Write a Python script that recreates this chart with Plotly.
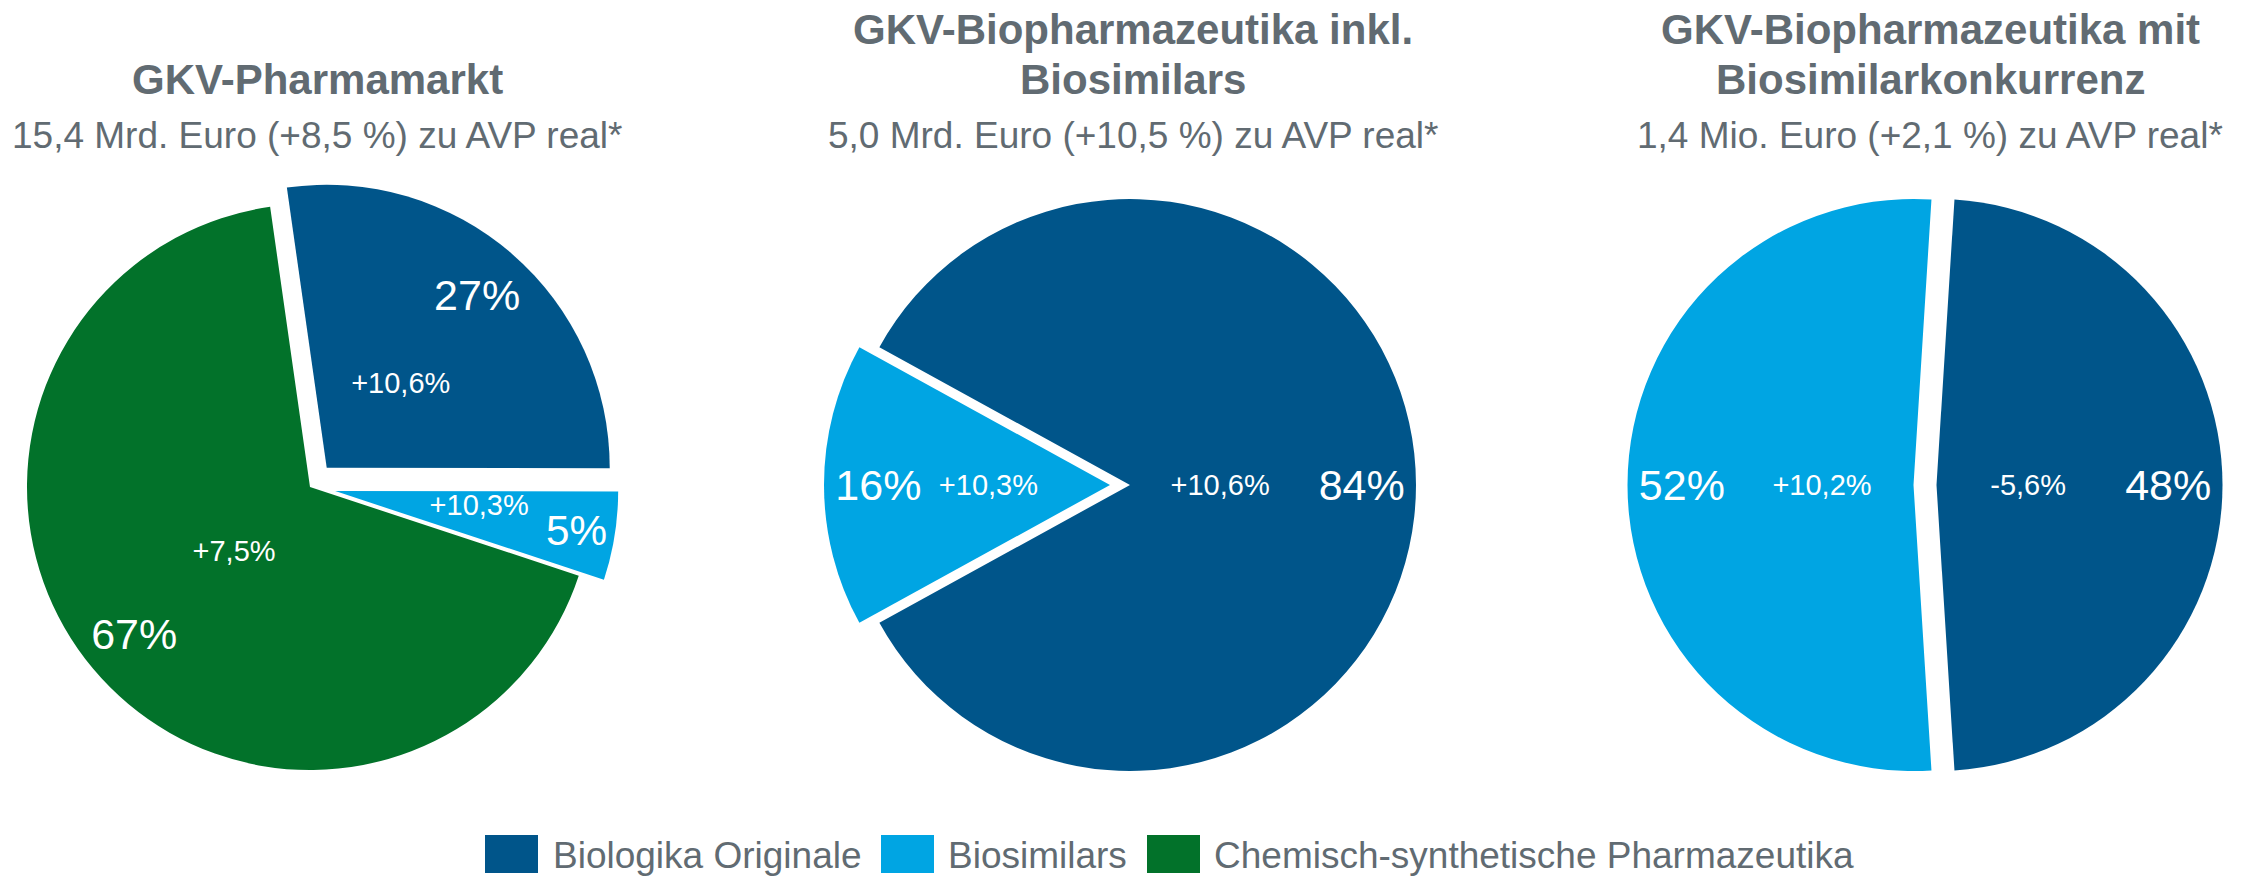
import plotly.graph_objects as go

W, H = 2244, 879

# ---------------- data ----------------
categories = ["Biologika Originale", "Biosimilars", "Chemisch-synthetische Pharmazeutika"]

titles = [["GKV-Pharmamarkt"],
          ["GKV-Biopharmazeutika inkl.", "Biosimilars"],
          ["GKV-Biopharmazeutika mit", "Biosimilarkonkurrenz"]]
subtitles = ["15,4 Mrd. Euro (+8,5 %) zu AVP real*",
             "5,0 Mrd. Euro (+10,5 %) zu AVP real*",
             "1,4 Mio. Euro (+2,1 %) zu AVP real*"]

pie1_labels = ["Biologika Originale", "Biosimilars", "Chemisch-synthetische Pharmazeutika"]
pie1_shares = [27, 5, 67]
pie1_growth = ["+10,6%", "+10,3%", "+7,5%"]

pie2_labels = ["Biologika Originale", "Biosimilars"]
pie2_shares = [84, 16]
pie2_growth = ["+10,6%", "+10,3%"]

pie3_labels = ["Biologika Originale", "Biosimilars"]
pie3_shares = [48, 52]
pie3_growth = ["-5,6%", "+10,2%"]

# ---------------- style ----------------
COLORS = {"Biologika Originale": "#00558A",
          "Biosimilars": "#00A5E3",
          "Chemisch-synthetische Pharmazeutika": "#02722A"}
GRAY = "#616B72"
FONT = "Liberation Sans, Arial, sans-serif"
CLEAR = "rgba(0,0,0,0)"

pies = [
    dict(labels=pie1_labels, shares=pie1_shares, growth=pie1_growth,
         cx=310, cy=487, r=283, pull_px=[25.5, 25.5, 0], rot=-8.1,
         f_small=0.70, small_pos=["inside", "outside", "inside"], r_out=87.5,
         tx=317, title_y=[79], sub_y=135),
    dict(labels=pie2_labels, shares=pie2_shares, growth=pie2_growth,
         cx=1130, cy=485, r=286, pull_px=[0, 20], rot=-61.2,
         f_small=0.63, small_pos=["inside", "inside"], r_out=None,
         tx=1133, title_y=[29, 79], sub_y=135),
    dict(labels=pie3_labels, shares=pie3_shares, growth=pie3_growth,
         cx=1925, cy=485, r=286, pull_px=[11.5, 11.5], rot=3.6,
         f_small=0.64, small_pos=["inside", "inside"], r_out=None,
         tx=1930, title_y=[29, 79], sub_y=135),
]


def domain(cx, cy, r, pulls):
    h = r * (1 + max(pulls))
    x0, x1 = max(0.0, (cx - h) / W), min(1.0, (cx + h) / W)
    y0, y1 = max(0.0, 1 - (cy + h) / H), min(1.0, 1 - (cy - h) / H)
    return dict(x=[x0, x1], y=[y0, y1])


common = dict(sort=False, direction="clockwise", showlegend=False)

fig = go.Figure()
for p in pies:
    n = len(p["labels"])
    # visible slices
    pulls = [px / p["r"] for px in p["pull_px"]]
    fig.add_trace(go.Pie(
        labels=p["labels"], values=p["shares"], rotation=p["rot"],
        pull=pulls, domain=domain(p["cx"], p["cy"], p["r"], pulls),
        marker=dict(colors=[COLORS[l] for l in p["labels"]], line=dict(width=0)),
        textinfo="none", hoverinfo="label+percent", **common))
    # share labels (outer ring)
    fig.add_trace(go.Pie(
        labels=p["labels"], values=p["shares"], rotation=p["rot"],
        pull=pulls, domain=domain(p["cx"], p["cy"], p["r"], pulls), hole=0.62,
        marker=dict(colors=[CLEAR] * n, line=dict(width=0)),
        text=[f"{v}%" for v in p["shares"]], textinfo="text",
        textposition="inside", insidetextorientation="horizontal",
        textfont=dict(size=43, color="white", family=FONT),
        hoverinfo="skip", **common))
    # growth labels (inner)
    rc = p["r"] * p["f_small"]
    pulls_c = [px / rc for px in p["pull_px"]]
    fig.add_trace(go.Pie(
        labels=p["labels"], values=p["shares"], rotation=p["rot"],
        pull=pulls_c, domain=domain(p["cx"], p["cy"], rc, pulls_c),
        marker=dict(colors=[CLEAR] * n, line=dict(width=0)),
        text=[g if pos == "inside" else "" for g, pos in zip(p["growth"], p["small_pos"])],
        textinfo="text", textposition="inside", insidetextorientation="horizontal",
        textfont=dict(size=29, color="white", family=FONT),
        hoverinfo="skip", **common))
    if p["r_out"]:
        ro = p["r_out"]
        pulls_o = [px / ro for px in p["pull_px"]]
        fig.add_trace(go.Pie(
            labels=p["labels"], values=p["shares"], rotation=p["rot"],
            pull=pulls_o, domain=domain(p["cx"], p["cy"], ro, pulls_o),
            marker=dict(colors=[CLEAR] * n, line=dict(width=0)),
            text=[g if pos == "outside" else "" for g, pos in zip(p["growth"], p["small_pos"])],
            textinfo="text", textposition="outside",
            textfont=dict(size=29, color="white", family=FONT),
            outsidetextfont=dict(size=29, color="white", family=FONT),
            hoverinfo="skip", **common))

annotations = []
for p, tl, st in zip(pies, titles, subtitles):
    for line, y in zip(tl, p["title_y"]):
        annotations.append(dict(text=f"<b>{line}</b>", x=p["tx"] / W, y=1 - y / H,
                                xref="paper", yref="paper", xanchor="center", yanchor="middle",
                                showarrow=False, font=dict(size=42, color=GRAY, family=FONT)))
    annotations.append(dict(text=st, x=p["tx"] / W, y=1 - p["sub_y"] / H,
                            xref="paper", yref="paper", xanchor="center", yanchor="middle",
                            showarrow=False, font=dict(size=37, color=GRAY, family=FONT)))

# legend (manual, to reproduce the large colour keys)
legend_items = [(485, 551), (881, 946), (1147, 1212)]
shapes = []
for cat, (sx, tx) in zip(categories, legend_items):
    shapes.append(dict(type="rect", xref="paper", yref="paper",
                       x0=sx / W, x1=(sx + 53) / W, y0=1 - 873 / H, y1=1 - 835 / H,
                       fillcolor=COLORS[cat], line=dict(width=0)))
    annotations.append(dict(text=cat, x=tx / W, y=1 - 855 / H, xref="paper", yref="paper",
                            xanchor="left", yanchor="middle", showarrow=False,
                            font=dict(size=37, color=GRAY, family=FONT)))

fig.update_layout(width=W, height=H, margin=dict(l=0, r=0, t=0, b=0),
                  paper_bgcolor="white", plot_bgcolor="white", showlegend=False,
                  font=dict(family=FONT, color=GRAY),
                  annotations=annotations, shapes=shapes)

fig.write_html("out.html", config={"displayModeBar": False},
               post_script="document.body.style.margin='0';document.body.style.overflow='hidden';")
